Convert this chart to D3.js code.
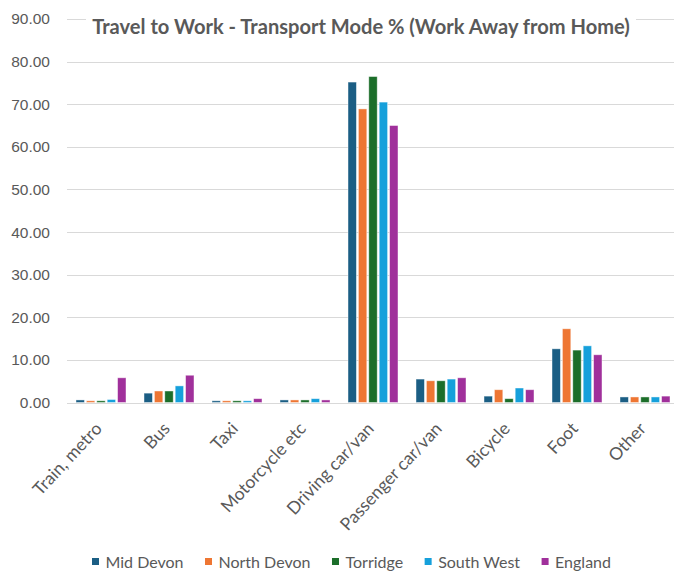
<!DOCTYPE html>
<html>
<head>
<meta charset="utf-8">
<script src="https://cdn.jsdelivr.net/npm/d3@7"></script>
<style>
  html, body { margin: 0; padding: 0; background: #fff; }
  svg { display: block; }
</style>
</head>
<body>
<svg id="chart" width="674" height="575"></svg>
<script>
const categories = ["Train, metro", "Bus", "Taxi", "Motorcycle etc", "Driving car/van", "Passenger car/van", "Bicycle", "Foot", "Other"];
const seriesNames = ["Mid Devon", "North Devon", "Torridge", "South West", "England"];
const midDevon   = [0.6, 2.2, 0.4, 0.6, 75.2, 5.5, 1.5, 12.6, 1.3];
const northDevon = [0.4, 2.7, 0.4, 0.6, 68.9, 5.1, 3.0, 17.3, 1.3];
const torridge   = [0.4, 2.7, 0.4, 0.6, 76.5, 5.1, 0.9, 12.3, 1.3];
const southWest  = [0.7, 3.9, 0.4, 0.9, 70.5, 5.5, 3.4, 13.3, 1.3];
const england    = [5.8, 6.4, 0.9, 0.6, 65.0, 5.8, 3.0, 11.2, 1.5];
const yTicks = [0, 10, 20, 30, 40, 50, 60, 70, 80, 90];
const colors = ["#1b5e84", "#ee7633", "#1c6e2a", "#16a0db", "#a0309b"];
const seriesValues = [midDevon, northDevon, torridge, southWest, england];

(function() {
const svg = d3.select("#chart");
const mLeft = 67, mRight = 679, mTop = 19, mBottom = 402.5;
const textColor = "#595959";

const x = d3.scaleBand().domain(categories).range([mLeft, mRight]).paddingInner(0).paddingOuter(0);
const y = d3.scaleLinear().domain([0, 90]).range([mBottom, mTop]);
const groupW = 50;
const x1 = d3.scaleBand().domain(seriesNames).range([0, groupW]).paddingInner(0.19).paddingOuter(0);
const groupOffset = (x.bandwidth() - groupW) / 2;

// gridlines
svg.append("g").selectAll("line").data(yTicks).join("line")
  .attr("x1", mLeft).attr("x2", 674)
  .attr("y1", d => Math.round(y(d)) + 0.5).attr("y2", d => Math.round(y(d)) + 0.5)
  .attr("stroke", "#d9d9d9").attr("stroke-width", 1.2);

// y axis labels
const yAxis = d3.axisLeft(y).tickValues(yTicks).tickFormat(d3.format(".2f")).tickSize(0).tickPadding(0);
const gy = svg.append("g").attr("transform", "translate(50,0)").call(yAxis);
gy.select(".domain").remove();
gy.selectAll("text").attr("fill", textColor).style("font-family", "'Liberation Sans', Arial, sans-serif").style("font-size", "15.5px");

// bars
const groups = svg.append("g").selectAll("g").data(categories).join("g")
  .attr("transform", d => `translate(${x(d) + groupOffset},0)`);
groups.selectAll("rect").data((c, i) => seriesNames.map((s, j) => ({ s, v: seriesValues[j][i], j })))
  .join("rect")
  .attr("x", d => x1(d.s))
  .attr("width", x1.bandwidth())
  .attr("y", d => y(d.v))
  .attr("height", d => mBottom - y(d.v))
  .attr("fill", d => colors[d.j])
  .attr("stroke", "rgba(255,255,255,0.55)")
  .attr("stroke-width", 0.8);

// x axis labels
const xAxis = d3.axisBottom(x).tickSize(0).tickPadding(0);
const gx = svg.append("g").attr("transform", `translate(0,${mBottom + 27})`).call(xAxis);
gx.select(".domain").remove();
gx.selectAll("text")
  .attr("fill", textColor)
  .style("font-family", "Lato, 'Open Sans', sans-serif")
  .style("font-size", "17.5px")
  .attr("text-anchor", "end")
  .attr("transform", "translate(2,0) rotate(-47)")
  .attr("dy", "0")
  .attr("y", 0);

// title
const titleText = "Travel to Work - Transport Mode % (Work Away from Home)";
const titleBg = svg.append("rect").attr("fill", "#fff");
const title = svg.append("text")
  .attr("x", 361).attr("y", 34)
  .attr("text-anchor", "middle")
  .attr("fill", textColor)
  .style("font-family", "Lato, sans-serif")
  .style("font-weight", "bold")
  .style("font-size", "19px")
  .text(titleText);
const tw = title.node().getComputedTextLength();
const targetW = 538;
title.style("font-size", (19 * targetW / tw) + "px");
titleBg.attr("x", 361 - targetW / 2 - 6).attr("y", 12).attr("width", targetW + 12).attr("height", 28);

// legend
const legend = svg.append("g");
const legendY = 562;
let lx = 92;
const items = legend.selectAll("g").data(seriesNames).join("g");
items.append("rect").attr("width", 7).attr("height", 7).attr("y", legendY - 4)
  .attr("fill", (d, i) => colors[i]);
items.append("text").attr("x", 13.5).attr("y", legendY).attr("dy", "0.35em")
  .attr("fill", textColor)
  .style("font-family", "Lato, sans-serif")
  .style("font-size", "16px")
  .text(d => d);
items.each(function() {
  const g = d3.select(this);
  g.attr("transform", `translate(${lx},0)`);
  const w = g.select("text").node().getComputedTextLength();
  lx += 13.5 + w + 21.5;
});
})();
</script>
</body>
</html>
